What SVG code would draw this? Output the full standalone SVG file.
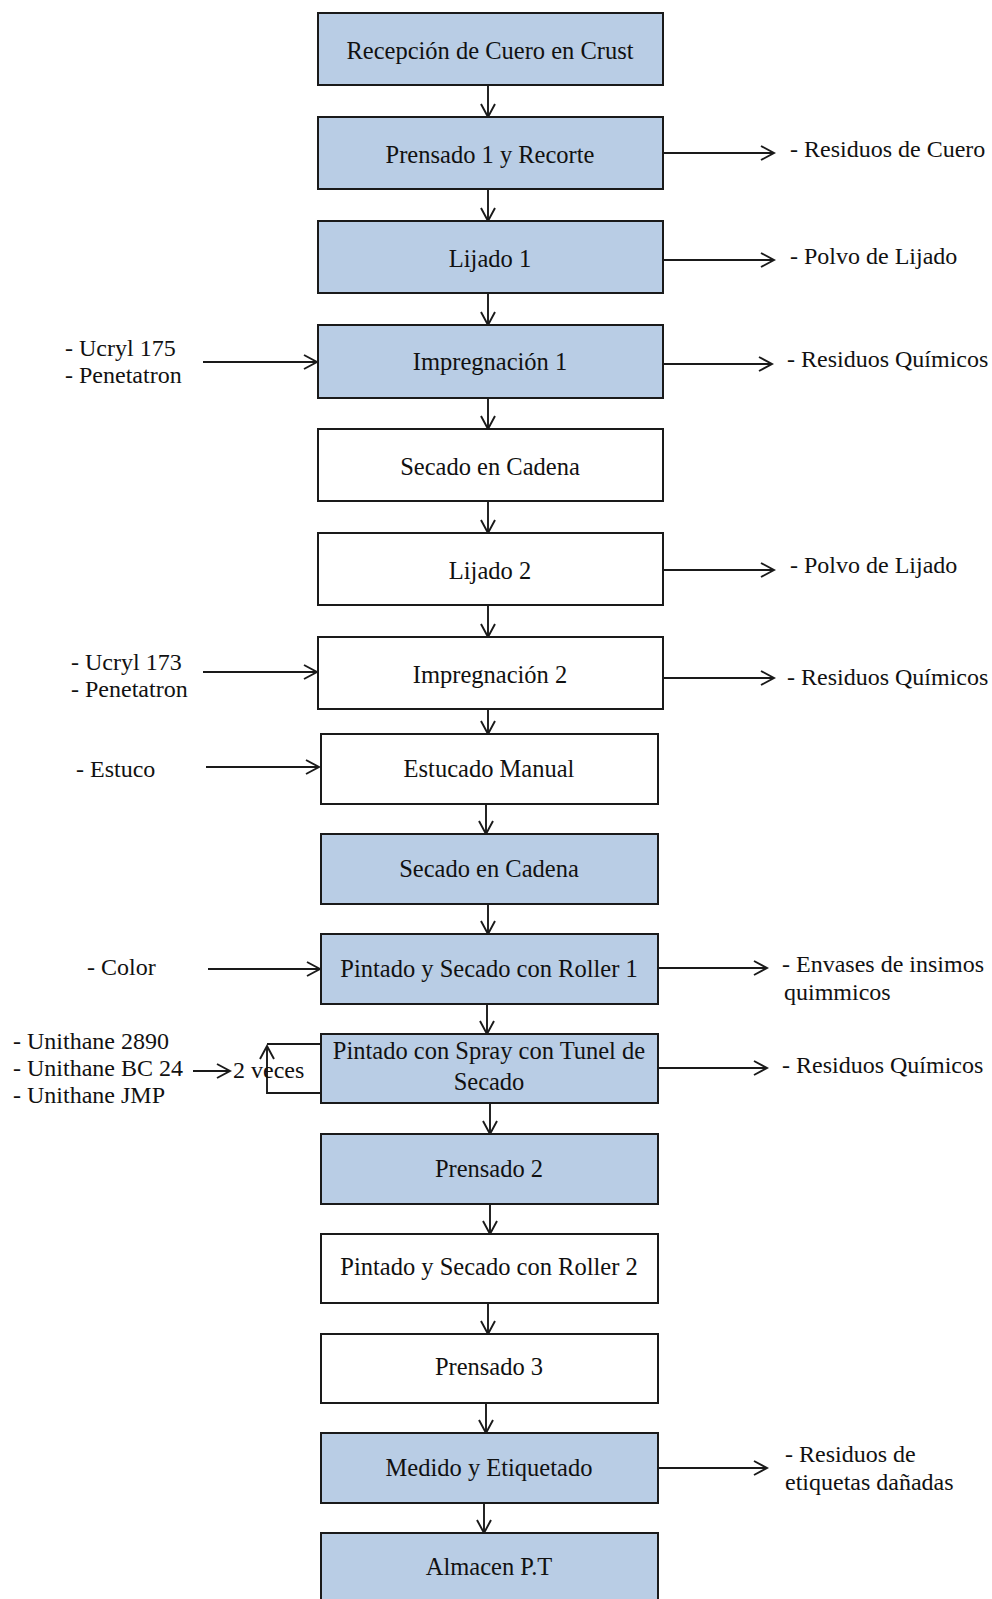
<svg xmlns="http://www.w3.org/2000/svg" width="992" height="1599" viewBox="0 0 992 1599">
<style>
  .blue { fill: #B9CDE5; stroke: #1a1a1a; stroke-width: 2; }
  .white { fill: #ffffff; stroke: #1a1a1a; stroke-width: 2; }
  .t { font-family: "Liberation Serif", "Times New Roman", serif; font-size: 24.5px; fill: #111; text-anchor: middle; }
  .s { font-family: "Liberation Serif", "Times New Roman", serif; font-size: 24px; fill: #111; }
  .c { fill: none; stroke: #1a1a1a; stroke-width: 1.9; }
</style>
<defs>
  <marker id="arr" markerUnits="userSpaceOnUse" markerWidth="18" markerHeight="18" viewBox="0 0 18 18" refX="15" refY="9" orient="auto">
    <path d="M2,2 L15,9 L2,16" fill="none" stroke="#1a1a1a" stroke-width="1.9"/>
  </marker>
</defs>
<rect width="992" height="1599" fill="#ffffff"/>

<g id="connectors">
  <line class="c" x1="488" y1="85" x2="488" y2="117" marker-end="url(#arr)"/>
  <line class="c" x1="488" y1="189" x2="488" y2="221" marker-end="url(#arr)"/>
  <line class="c" x1="488" y1="293" x2="488" y2="325" marker-end="url(#arr)"/>
  <line class="c" x1="488" y1="398" x2="488" y2="429" marker-end="url(#arr)"/>
  <line class="c" x1="488" y1="501" x2="488" y2="533" marker-end="url(#arr)"/>
  <line class="c" x1="488" y1="605" x2="488" y2="637" marker-end="url(#arr)"/>
  <line class="c" x1="488" y1="709" x2="488" y2="734" marker-end="url(#arr)"/>
  <line class="c" x1="486" y1="804" x2="486" y2="834" marker-end="url(#arr)"/>
  <line class="c" x1="488" y1="904" x2="488" y2="934" marker-end="url(#arr)"/>
  <line class="c" x1="487" y1="1004" x2="487" y2="1034" marker-end="url(#arr)"/>
  <line class="c" x1="490" y1="1103" x2="490" y2="1134" marker-end="url(#arr)"/>
  <line class="c" x1="490" y1="1204" x2="490" y2="1234" marker-end="url(#arr)"/>
  <line class="c" x1="488" y1="1303" x2="488" y2="1334" marker-end="url(#arr)"/>
  <line class="c" x1="486" y1="1403" x2="486" y2="1433" marker-end="url(#arr)"/>
  <line class="c" x1="484" y1="1503" x2="484" y2="1533" marker-end="url(#arr)"/>

  <line class="c" x1="663" y1="153" x2="774" y2="153" marker-end="url(#arr)"/>
  <line class="c" x1="663" y1="260" x2="774" y2="260" marker-end="url(#arr)"/>
  <line class="c" x1="658" y1="364" x2="772" y2="364" marker-end="url(#arr)"/>
  <line class="c" x1="663" y1="570" x2="774" y2="570" marker-end="url(#arr)"/>
  <line class="c" x1="663" y1="678" x2="774" y2="678" marker-end="url(#arr)"/>
  <line class="c" x1="658" y1="968" x2="767" y2="968" marker-end="url(#arr)"/>
  <line class="c" x1="658" y1="1068" x2="767" y2="1068" marker-end="url(#arr)"/>
  <line class="c" x1="658" y1="1468" x2="767" y2="1468" marker-end="url(#arr)"/>

  <line class="c" x1="203" y1="362" x2="317" y2="362" marker-end="url(#arr)"/>
  <line class="c" x1="203" y1="672" x2="317" y2="672" marker-end="url(#arr)"/>
  <line class="c" x1="206" y1="767" x2="319" y2="767" marker-end="url(#arr)"/>
  <line class="c" x1="208" y1="969" x2="320" y2="969" marker-end="url(#arr)"/>

  <line class="c" x1="193" y1="1071" x2="230" y2="1071" marker-end="url(#arr)"/>
  <polyline class="c" points="321,1093 267,1093 267,1046" marker-end="url(#arr)"/>
  <line class="c" x1="267" y1="1044" x2="321" y2="1044"/>
</g>

<g id="n1"><rect class="blue" x="318" y="13" width="345" height="72"/><text class="t" x="490" y="59">Recepción de Cuero en Crust</text></g>
<g id="n2"><rect class="blue" x="318" y="117" width="345" height="72"/><text class="t" x="490" y="163">Prensado 1 y Recorte</text></g>
<g id="n3"><rect class="blue" x="318" y="221" width="345" height="72"/><text class="t" x="490" y="267">Lijado 1</text></g>
<g id="n4"><rect class="blue" x="318" y="325" width="345" height="73"/><text class="t" x="490" y="370">Impregnación 1</text></g>
<g id="n5"><rect class="white" x="318" y="429" width="345" height="72"/><text class="t" x="490" y="475">Secado en Cadena</text></g>
<g id="n6"><rect class="white" x="318" y="533" width="345" height="72"/><text class="t" x="490" y="579">Lijado 2</text></g>
<g id="n7"><rect class="white" x="318" y="637" width="345" height="72"/><text class="t" x="490" y="683">Impregnación 2</text></g>
<g id="n8"><rect class="white" x="321" y="734" width="337" height="70"/><text class="t" x="489" y="777">Estucado Manual</text></g>
<g id="n9"><rect class="blue" x="321" y="834" width="337" height="70"/><text class="t" x="489" y="877">Secado en Cadena</text></g>
<g id="n10"><rect class="blue" x="321" y="934" width="337" height="70"/><text class="t" x="489" y="977">Pintado y Secado con Roller 1</text></g>
<g id="n11"><rect class="blue" x="321" y="1034" width="337" height="69"/><text class="t" x="489" y="1059">Pintado con Spray con Tunel de</text><text class="t" x="489" y="1090">Secado</text></g>
<g id="n12"><rect class="blue" x="321" y="1134" width="337" height="70"/><text class="t" x="489" y="1177">Prensado 2</text></g>
<g id="n13"><rect class="white" x="321" y="1234" width="337" height="69"/><text class="t" x="489" y="1275">Pintado y Secado con Roller 2</text></g>
<g id="n14"><rect class="white" x="321" y="1334" width="337" height="69"/><text class="t" x="489" y="1375">Prensado 3</text></g>
<g id="n15"><rect class="blue" x="321" y="1433" width="337" height="70"/><text class="t" x="489" y="1476">Medido y Etiquetado</text></g>
<g id="n16"><rect class="blue" x="321" y="1533" width="337" height="80"/><text class="t" x="489" y="1575">Almacen P.T</text></g>

<g id="outputs">
  <text class="s" x="790" y="157">- Residuos de Cuero</text>
  <text class="s" x="790" y="264">- Polvo de Lijado</text>
  <text class="s" x="787" y="367">- Residuos Químicos</text>
  <text class="s" x="790" y="573">- Polvo de Lijado</text>
  <text class="s" x="787" y="685">- Residuos Químicos</text>
  <text class="s" x="782" y="972">- Envases de insimos</text>
  <text class="s" x="784" y="1000">quimmicos</text>
  <text class="s" x="782" y="1073">- Residuos  Químicos</text>
  <text class="s" x="785" y="1462">- Residuos de</text>
  <text class="s" x="785" y="1490">etiquetas dañadas</text>
</g>

<g id="inputs">
  <text class="s" x="65" y="356">- Ucryl 175</text>
  <text class="s" x="65" y="383">- Penetatron</text>
  <text class="s" x="71" y="670">- Ucryl 173</text>
  <text class="s" x="71" y="697">- Penetatron</text>
  <text class="s" x="76" y="777">- Estuco</text>
  <text class="s" x="87" y="975">- Color</text>
  <text class="s" x="13" y="1049">- Unithane 2890</text>
  <text class="s" x="13" y="1076">- Unithane BC 24</text>
  <text class="s" x="13" y="1103">- Unithane JMP</text>
  <text class="s" x="233" y="1078">2 veces</text>
</g>
</svg>
